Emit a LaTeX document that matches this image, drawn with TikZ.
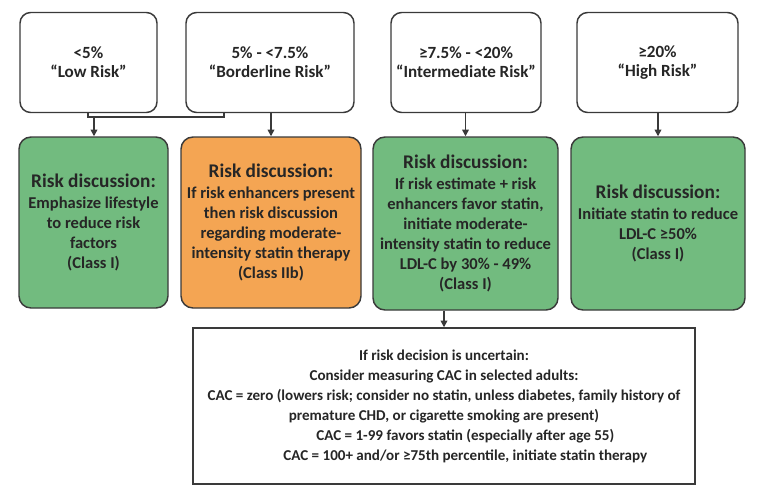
\documentclass[tikz,border=0pt]{standalone}
\usepackage{fontspec}
\setmainfont{Carlito}
\usetikzlibrary{arrows.meta}
\definecolor{boxgreen}{HTML}{72BB7F}
\definecolor{boxorange}{HTML}{F4A553}
\definecolor{edge}{HTML}{3A3A3A}
\tikzset{
  riskbox/.style={draw=edge, line width=1.1pt, rounded corners=8pt, fill=white, align=center,
    font=\bfseries\fontsize{12.8}{14.5}\selectfont, text=black!85, inner sep=2pt, minimum height=75pt},
  recbox/.style={draw=edge, line width=1.1pt, rounded corners=9pt, align=center,
    font=\bfseries\fontsize{12.4}{15}\selectfont, text=black!85, inner sep=1pt},
  bottombox/.style={draw=edge, line width=1.1pt, fill=white, align=center,
    font=\bfseries\fontsize{11.3}{15}\selectfont, text=black!85, inner sep=2pt},
  conn/.style={draw=edge, line width=1.1pt},
  arr/.style={conn, -{Triangle[length=5pt,width=5pt]}},
}
\newcommand{\rhead}{{\fontsize{14.5}{15}\selectfont Risk discussion:}}
\begin{document}
\begin{tikzpicture}[x=0.75pt,y=-0.75pt]
\useasboundingbox (0,0) rectangle (768,493);
% top boxes
\node[riskbox, minimum width=102.75pt] (b1) at (88.5,62.5) {<5\%\\“Low Risk”};
\node[riskbox, minimum width=126pt] (b2) at (270,62.5) {5\% - <7.5\%\\“Borderline Risk”};
\node[riskbox, minimum width=112.5pt] (b3) at (466,62.5) {≥7.5\% - <20\%\\“Intermediate Risk”};
\node[riskbox, minimum width=120.75pt] (b4) at (657.5,62.5) {≥20\%\\“High Risk”};
% recommendation boxes
\node[recbox, fill=boxgreen, minimum width=111.75pt, minimum height=128.25pt] (g1) at (93.5,222.5)
  {\rhead\\[1pt]Emphasize lifestyle\\to reduce risk\\factors\\(Class I)};
\node[recbox, fill=boxorange, minimum width=135pt, minimum height=128.25pt] (o2) at (271,222.5)
  {\rhead\\[1pt]If risk enhancers present\\then risk discussion\\regarding moderate-\\intensity statin therapy\\(Class IIb)};
\node[recbox, fill=boxgreen, minimum width=138.75pt, minimum height=129.75pt] (g3) at (465.5,223.5)
  {\rhead\\[1pt]If risk estimate + risk\\enhancers favor statin,\\initiate moderate-\\intensity statin to reduce\\LDL-C by 30\% - 49\%\\(Class I)};
\node[recbox, fill=boxgreen, minimum width=130.5pt, minimum height=129.75pt] (g4) at (658,223.5)
  {\rhead\\[1pt]Initiate statin to reduce\\LDL-C ≥50\%\\(Class I)};
% bottom box
\node[bottombox, minimum width=376.5pt, minimum height=117pt] (bot) at (444,406)
  {If risk decision is uncertain:\\
   Consider measuring CAC in selected adults:\\
   CAC = zero (lowers risk; consider no statin, unless diabetes, family history of\\
   premature CHD, or cigarette smoking are present)\\
   \hspace*{32pt}CAC = 1-99 favors statin (especially after age 55)\\
   \hspace*{32pt}CAC = 100+ and/or ≥75th percentile, initiate statin therapy};
% connectors
\coordinate (jl) at (88,117);
\coordinate (jr) at (224,117);
\coordinate (j) at (94,117);
\draw[conn] (jl |- b1.south) -- (jl) -- (jr) -- (jr |- b2.south);
\draw[arr] (j) -- (j |- g1.north);
\draw[arr] (o2.north |- b2.south) -- (o2.north);
\draw[arr] (g3.north |- b3.south) -- (g3.north);
\draw[arr] (g4.north |- b4.south) -- (g4.north);
\draw[arr] (g3.south -| bot.north) -- (bot.north);
\end{tikzpicture}
\end{document}
